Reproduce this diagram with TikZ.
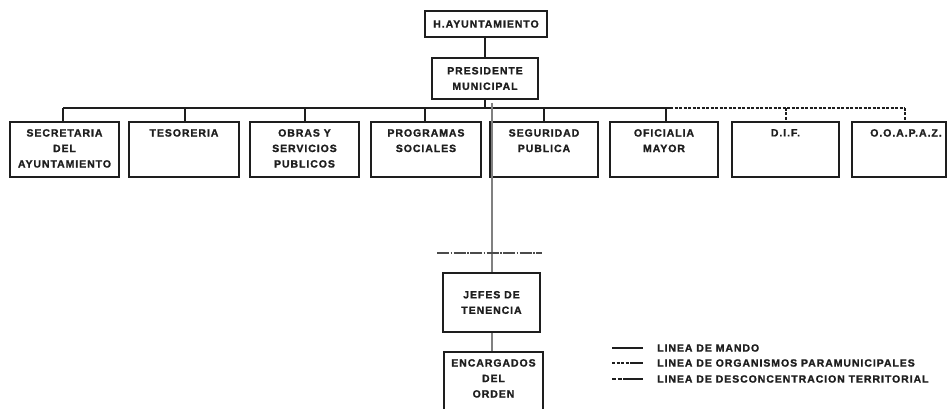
\documentclass[tikz,border=0pt]{standalone}
\usepackage{fontspec}
\newfontfamily\orgfont{Liberation Sans Bold}[LetterSpace=9,FakeBold=1.4]
\begin{document}
\begin{tikzpicture}[x=1pt,y=-1pt,
  orgbox/.style={draw=boxline,line width=2pt,minimum width=109pt,minimum height=55pt,inner sep=0pt},
  orgtext/.style={font=\orgfont\fontsize{10.5}{15.5}\selectfont,align=center,inner sep=0pt,text=boxline},
  mando/.style={draw=boxline,line width=2pt},
  paramun/.style={draw=boxline,line width=1.8pt,dash pattern=on 3pt off 1.5pt},
  territ/.style={draw=terrgray,line width=2.2pt},
  territdash/.style={draw=boxline!80,line width=1.6pt,dash pattern=on 12pt off 1.5pt on 1.5pt off 1.5pt},
  legtext/.style={font=\orgfont\fontsize{10.5}{11}\selectfont,anchor=west,inner sep=0pt,text=boxline}]
\definecolor{boxline}{HTML}{1E1E1E}
\definecolor{terrgray}{HTML}{808080}
\useasboundingbox (0,0) rectangle (948,409);
\clip (0,0) rectangle (948,409);

% top of the hierarchy
\node[orgbox,minimum width=122pt,minimum height=26pt] (ayu) at (486,24) {};
\node[orgtext] at (ayu.center) {H.AYUNTAMIENTO};
\node[orgbox,minimum width=106pt,minimum height=41pt] (pres) at (485,78.5) {};
\node[orgtext] at (pres.center) {PRESIDENTE\\MUNICIPAL};

% second level
\node[orgbox] (b1) at (64.5,149.5) {};
\node[orgbox,minimum width=110pt] (b2) at (184,149.5) {};
\node[orgbox] (b3) at (304.5,149.5) {};
\node[orgbox,minimum width=110pt] (b4) at (426,149.5) {};
\node[orgbox,minimum width=108pt] (b5) at (544,149.5) {};
\node[orgbox,minimum width=108pt] (b6) at (664,149.5) {};
\node[orgbox,minimum width=107pt] (b7) at (785.5,149.5) {};
\node[orgbox,minimum width=94pt] (b8) at (899,149.5) {};

\node[orgtext,anchor=north] at (64.5,129) {SECRETARIA\\DEL\\AYUNTAMIENTO};
\node[orgtext,anchor=north] at (184,129) {TESORERIA};
\node[orgtext,anchor=north] at (304.5,129) {OBRAS Y\\SERVICIOS\\PUBLICOS};
\node[orgtext,anchor=north] at (426,129) {PROGRAMAS\\SOCIALES};
\node[orgtext,anchor=north] at (544,129) {SEGURIDAD\\PUBLICA};
\node[orgtext,anchor=north] at (664,129) {OFICIALIA\\MAYOR};
\node[orgtext,anchor=north] at (785.5,129) {D.I.F.};
\node[orgtext,anchor=north] at (906,129) {O.O.A.P.A.Z.};

% territorial branch
\node[orgbox,minimum width=97pt,minimum height=59pt] (jefes) at (491.5,302.5) {};
\node[orgtext] at (jefes.center) {JEFES DE\\TENENCIA};
\node[orgbox,minimum width=99pt,minimum height=70pt] (enc) at (493.5,387) {};
\node[orgtext,anchor=north] at (493.5,359) {ENCARGADOS\\DEL\\ORDEN};

% command lines
\coordinate (barL) at (63,108);
\coordinate (barM) at (670,108);
\coordinate (barR) at (905,108);
\draw[mando] (ayu.south) -- (pres.south |- ayu.south) -- (pres.north);
\draw[mando] (pres.south) -- (pres.south |- barL);
\draw[mando] (barL) -- (barM);
\draw[mando] (barL) -- (b1.north -| barL);
\draw[mando] (185,108) -- (b2.north -| 185,0);
\draw[mando] (305,108) -- (b3.north -| 305,0);
\draw[mando] (425,108) -- (b4.north -| 425,0);
\draw[mando,line width=1.4pt] (544,108) -- (b5.north);
\draw[mando] (666,108) -- (b6.north -| 666,0);

% paramunicipal lines
\draw[paramun] (barM) -- (barR);
\draw[paramun] (786,108) -- (b7.north -| 786,0);
\draw[paramun] (barR) -- (b8.north -| barR);

% deconcentration line
\coordinate (tstart) at (492,103);
\draw[territ] (tstart) -- (jefes.north -| tstart);
\draw[territ] (jefes.south -| tstart) -- (enc.north -| tstart);
\coordinate (tdL) at (437,253);
\coordinate (tdR) at (542,253);
\draw[territdash] (tdL) -- (tdR);

% legend
\coordinate (l1a) at (612,348); \coordinate (l1b) at (643,348);
\coordinate (l2a) at (612,363); \coordinate (l2b) at (643,363);
\coordinate (l3a) at (612,379); \coordinate (l3b) at (643,379);
\draw[mando] (l1a) -- (l1b);
\draw[paramun] (l2a) -- (630,363);
\draw[mando] (630,363) -- (l2b);
\draw[draw=boxline,line width=1.6pt,dash pattern=on 4pt off 1.5pt] (l3a) -- (625,379);
\draw[draw=boxline,line width=1.6pt] (625,379) -- (l3b);
\node[legtext] (t1) at (657,348) {LINEA DE MANDO};
\node[legtext] (t2) at (657,363) {LINEA DE ORGANISMOS PARAMUNICIPALES};
\node[legtext] (t3) at (657,379) {LINEA DE DESCONCENTRACION TERRITORIAL};
\end{tikzpicture}
\end{document}
